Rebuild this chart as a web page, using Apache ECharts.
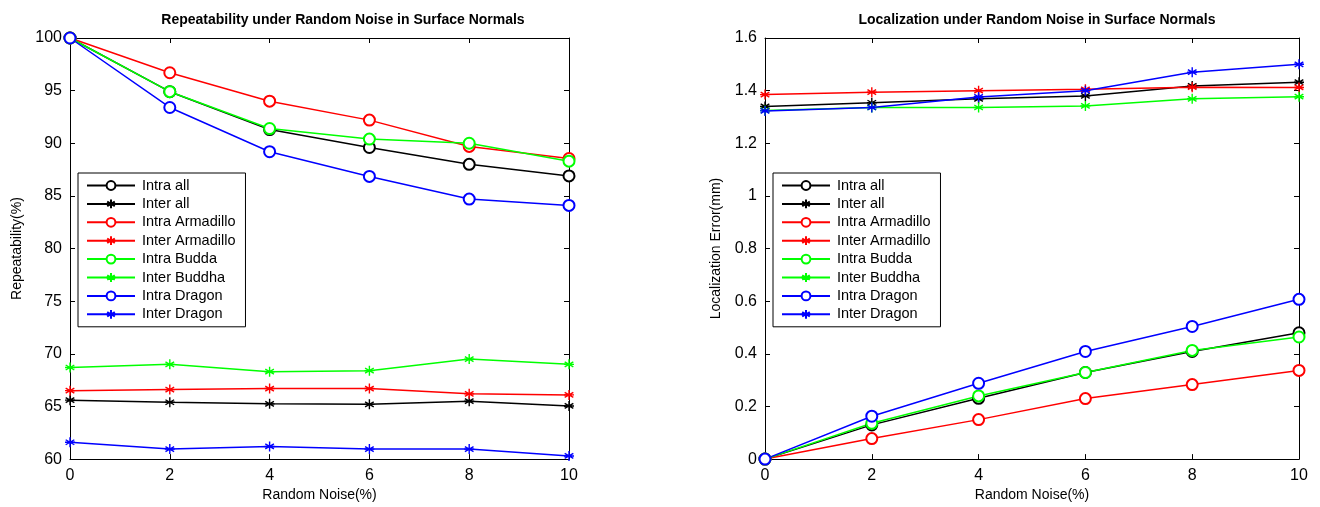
<!DOCTYPE html>
<html><head><meta charset="utf-8">
<script src="https://cdn.jsdelivr.net/npm/echarts@6/dist/echarts.min.js"></script>
<style>html,body{margin:0;padding:0;background:#fff}#c{width:1320px;height:507px}</style>
</head><body><div id="c"></div>
<script>
const noise = [0, 2, 4, 6, 8, 10];
const seriesNames = ['Intra all','Inter all','Intra Armadillo','Inter Armadillo','Intra Budda','Inter Buddha','Intra Dragon','Inter Dragon'];
const seriesColors = ['#000000','#000000','#ff0000','#ff0000','#00ff00','#00ff00','#0000ff','#0000ff'];
// Repeatability (%)
const repIntraAll   = [100, 94.9, 91.3, 89.6, 88.0, 86.9];
const repInterAll   = [65.6, 65.4, 65.25, 65.2, 65.5, 65.05];
const repIntraArma  = [100, 96.7, 94.0, 92.2, 89.7, 88.55];
const repInterArma  = [66.5, 66.6, 66.7, 66.7, 66.2, 66.1];
const repIntraBudda = [100, 94.9, 91.4, 90.4, 90.0, 88.3];
const repInterBudda = [68.7, 69.0, 68.3, 68.4, 69.5, 69.0];
const repIntraDrag  = [100, 93.4, 89.2, 86.85, 84.7, 84.1];
const repInterDrag  = [61.6, 60.95, 61.2, 60.95, 60.95, 60.3];
// Localization error (mm)
const locIntraAll   = [0, 0.130, 0.231, 0.329, 0.409, 0.480];
const locInterAll   = [1.340, 1.354, 1.369, 1.380, 1.418, 1.432];
const locIntraArma  = [0, 0.078, 0.150, 0.230, 0.283, 0.337];
const locInterArma  = [1.385, 1.394, 1.400, 1.405, 1.413, 1.412];
const locIntraBudda = [0, 0.136, 0.240, 0.329, 0.413, 0.464];
const locInterBudda = [1.325, 1.336, 1.336, 1.342, 1.369, 1.377];
const locIntraDrag  = [0, 0.163, 0.288, 0.409, 0.504, 0.607];
const locInterDrag  = [1.323, 1.336, 1.376, 1.400, 1.470, 1.500];

const repData = [repIntraAll, repInterAll, repIntraArma, repInterArma, repIntraBudda, repInterBudda, repIntraDrag, repInterDrag];
const locData = [locIntraAll, locInterAll, locIntraArma, locInterArma, locIntraBudda, locInterBudda, locIntraDrag, locInterDrag];

const STAR = 'path://M0,-10L0,10M-8.66,-5L8.66,5M-8.66,5L8.66,-5M-10,0L10,0';
const FONT = 'Liberation Sans';

function mkSeries(dataArr, axisIdx) {
  return dataArr.map((d, i) => {
    const isStar = i % 2 === 1;
    return {
      name: seriesNames[i], type: 'line', xAxisIndex: axisIdx, yAxisIndex: axisIdx,
      data: noise.map((x, k) => [x, d[k]]),
      symbol: isStar ? STAR : 'emptyCircle',
      symbolSize: isStar ? 10 : 11,
      showAllSymbol: true,
      lineStyle: { color: seriesColors[i], width: 1.5 },
      itemStyle: { color: seriesColors[i], borderColor: seriesColors[i], borderWidth: 1.4 },
      emphasis: { disabled: true },
      animation: false
    };
  });
}

function axesFor(gi, ymin, ymax, yint, yname, yfmt, nameGap) {
  const tick = { show: true, inside: true, length: 5, lineStyle: { color: '#000' } };
  const line = { show: true, onZero: false, lineStyle: { color: '#000', width: 1 } };
  const lbl = { color: '#000', fontSize: 16, fontFamily: FONT };
  const xs = [
    { type: 'value', gridIndex: gi, min: 0, max: 10, interval: 2, position: 'bottom',
      axisLine: line, axisTick: tick, splitLine: { show: false },
      axisLabel: Object.assign({ margin: 8 }, lbl),
      name: 'Random Noise(%)', nameLocation: 'middle', nameGap: 28,
      nameTextStyle: { color: '#000', fontSize: 14, fontFamily: FONT } },
    { type: 'value', gridIndex: gi, min: 0, max: 10, interval: 2, position: 'top',
      axisLine: line, axisTick: tick, splitLine: { show: false }, axisLabel: { show: false } }
  ];
  const ys = [
    { type: 'value', gridIndex: gi, min: ymin, max: ymax, interval: yint, position: 'left',
      axisLine: line, axisTick: tick, splitLine: { show: false },
      axisLabel: Object.assign({ margin: 8, formatter: yfmt }, lbl),
      name: yname, nameLocation: 'middle', nameGap: nameGap,
      nameTextStyle: { color: '#000', fontSize: 14, fontFamily: FONT } },
    { type: 'value', gridIndex: gi, min: ymin, max: ymax, interval: yint, position: 'right',
      axisLine: line, axisTick: tick, splitLine: { show: false }, axisLabel: { show: false } }
  ];
  return { xs, ys };
}

const a0 = axesFor(0, 60, 100, 5, 'Repeatability(%)', v => String(v), 46);
const a1 = axesFor(1, 0, 1.6, 0.2, 'Localization Error(mm)', v => (Math.round(v * 10) / 10).toString(), 42);

const legendCommon = {
  orient: 'vertical', itemWidth: 48, itemHeight: 11, itemGap: 3.4,
  padding: [5, 10, 5, 8], borderColor: '#000', borderWidth: 1, backgroundColor: '#fff',
  textStyle: { color: '#000', fontSize: 14.5, fontFamily: FONT, padding: [0, 0, 0, 2] },
  data: seriesNames, selectedMode: false
};

const chart = echarts.init(document.getElementById('c'), null, { renderer: 'canvas' });

chart.setOption({
  backgroundColor: '#fff',
  animation: false,
  title: [
    { text: 'Repeatability under Random Noise in Surface Normals', left: 338, top: 8, textAlign: 'center',
      textStyle: { fontSize: 14, fontWeight: 'bold', color: '#000', fontFamily: FONT } },
    { text: 'Localization under Random Noise in Surface Normals', left: 1032, top: 8, textAlign: 'center',
      textStyle: { fontSize: 14, fontWeight: 'bold', color: '#000', fontFamily: FONT } }
  ],
  grid: [
    { left: 70, right: 751, top: 38, bottom: 47, show: false },
    { left: 765, right: 21, top: 38, bottom: 47, show: false }
  ],
  xAxis: [...a0.xs, ...a1.xs],
  yAxis: [...a0.ys, ...a1.ys],
  legend: [
    Object.assign({}, legendCommon, { left: 78, top: 173 }),
    Object.assign({}, legendCommon, { left: 773, top: 173 })
  ],
  series: [...mkSeries(repData, 0), ...mkSeries(locData, 2)]
});
</script></body></html>
